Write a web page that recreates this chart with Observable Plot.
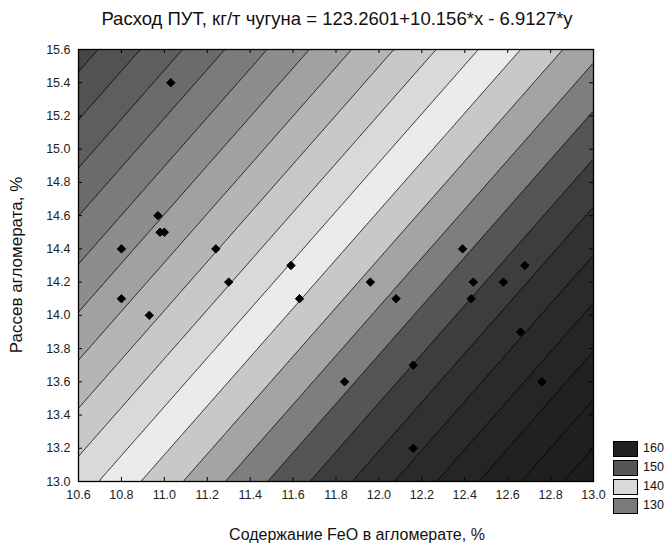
<!DOCTYPE html>
<html><head><meta charset="utf-8">
<script src="https://cdn.jsdelivr.net/npm/d3@7"></script>
<script src="https://cdn.jsdelivr.net/npm/@observablehq/plot@0.6"></script>
<style>
body{margin:0;background:#fff;font-family:"Liberation Sans",Arial,sans-serif;}
#wrap{position:relative;width:670px;height:544px;overflow:hidden;}
.t{position:absolute;white-space:nowrap;color:#111;font-size:16px;}
.lg{position:absolute;left:613px;width:23px;height:14px;border:1px solid #000;}
.lt{position:absolute;left:643px;font-size:12.5px;color:#111;}
</style></head><body><div id="wrap"></div>
<script>
const titleText = "Расход ПУТ, кг/т чугуна = 123.2601+10.156*x - 6.9127*y";
const xLabelText = "Содержание FeO в агломерате, %";
const yLabelText = "Рассев агломерата, %";
const coef = [123.2601, 10.156, -6.9127];
const xDomain = [10.6, 13.0];
const yDomain = [13.0, 15.6];
const xTicks = [10.6, 10.8, 11.0, 11.2, 11.4, 11.6, 11.8, 12.0, 12.2, 12.4, 12.6, 12.8, 13.0];
const yTicks = [13.0, 13.2, 13.4, 13.6, 13.8, 14.0, 14.2, 14.4, 14.6, 14.8, 15.0, 15.2, 15.4, 15.6];
const levels = [122, 124, 126, 128, 130, 132, 134, 136, 138, 140, 142, 144, 146, 148, 150, 152, 154, 156, 158, 160, 162, 164];
const pointX = [11.03, 10.97, 10.98, 11.0, 10.8, 11.24, 11.59, 11.3, 10.8, 10.93, 11.63, 11.96, 12.08, 11.84, 12.16, 12.16, 12.39, 12.44, 12.43, 12.58, 12.68, 12.66, 12.76];
const pointY = [15.4, 14.6, 14.5, 14.5, 14.4, 14.4, 14.3, 14.2, 14.1, 14.0, 14.1, 14.2, 14.1, 13.6, 13.7, 13.2, 14.4, 14.2, 14.1, 14.2, 14.3, 13.9, 13.6];
const legendValues = [160, 150, 140, 130];

const points = pointX.map((x, i) => ({x, y: pointY[i]}));
const surface = (x, y) => coef[0] + coef[1] * x + coef[2] * y;

const W = 670, H = 544, mL = 78, mR = 77, mT = 49, mB = 63;
const frameW = W - mL - mR, frameH = H - mT - mB, tk = 4;

const plot = Plot.plot({
  width: W, height: H,
  marginLeft: mL, marginRight: mR, marginTop: mT, marginBottom: mB,
  style: {fontFamily: "'Liberation Sans', Arial, sans-serif", fontSize: "12.5px", color: "#222", background: "#fff"},
  x: {domain: xDomain, label: null},
  y: {domain: yDomain, label: null},
  color: {type: "ordinal", domain: levels, range: [
    "#464646", "#525252", "#5e5e5e", "#6b6b6b", "#7b7b7b", "#8d8d8d", "#a1a1a1", "#b5b5b5",
    "#c8c8c8", "#d9d9d9", "#ebebeb", "#c8c8c8", "#a4a4a4", "#7e7e7e", "#555555", "#3d3d3d",
    "#313131", "#2a2a2a", "#252525", "#212121", "#1f1f1f", "#1d1d1d"]},
  marks: [
    Plot.contour({
      x1: xDomain[0], x2: xDomain[1], y1: yDomain[0], y2: yDomain[1],
      fill: surface, thresholds: levels, stroke: "#000", strokeWidth: 0.8
    }),
    Plot.dot(points, {x: "x", y: "y", symbol: "diamond2", r: 3.8, fill: "#000", stroke: "#000", strokeWidth: 1}),
    Plot.tickX(xTicks, {x: d => d, stroke: "#000", insetTop: frameH - tk}),
    Plot.tickX(xTicks, {x: d => d, stroke: "#000", insetBottom: frameH - tk}),
    Plot.tickY(yTicks, {y: d => d, stroke: "#000", insetRight: frameW - tk}),
    Plot.tickY(yTicks, {y: d => d, stroke: "#000", insetLeft: frameW - tk}),
    Plot.frame({stroke: "#000", strokeWidth: 1.3}),
    Plot.axisX({anchor: "bottom", ticks: xTicks, tickFormat: d3.format(".1f"), tickSize: 0, tickPadding: 9, label: null}),
    Plot.axisY({anchor: "left", ticks: yTicks, tickFormat: d3.format(".1f"), tickSize: 0, tickPadding: 8, label: null})
  ]
});

const wrap = document.getElementById("wrap");
wrap.appendChild(plot);
plot.style.position = "absolute"; plot.style.left = "0"; plot.style.top = "0";

function addText(txt, css) {
  const d = document.createElement("div");
  d.className = "t"; d.textContent = txt;
  Object.assign(d.style, css);
  wrap.appendChild(d);
  return d;
}
addText(titleText, {left: "337px", top: "8px", fontSize: "18.5px", transform: "translateX(-50%)"});
addText(xLabelText, {left: "357px", top: "526px", fontSize: "16px", transform: "translateX(-50%)"});
addText(yLabelText, {left: "17px", top: "265px", fontSize: "17px", transform: "translate(-50%,-50%) rotate(-90deg)"});

const color = plot.scale("color");
const scaleColor = d3.scaleOrdinal(color.domain, color.range);
legendValues.forEach((v, i) => {
  const top = 441 + i * 19;
  const sw = document.createElement("div");
  sw.className = "lg"; sw.style.top = top + "px"; sw.style.background = scaleColor(v);
  wrap.appendChild(sw);
  const lt = document.createElement("div");
  lt.className = "lt"; lt.style.top = (top + 0) + "px"; lt.textContent = String(v);
  wrap.appendChild(lt);
});
</script></body></html>
